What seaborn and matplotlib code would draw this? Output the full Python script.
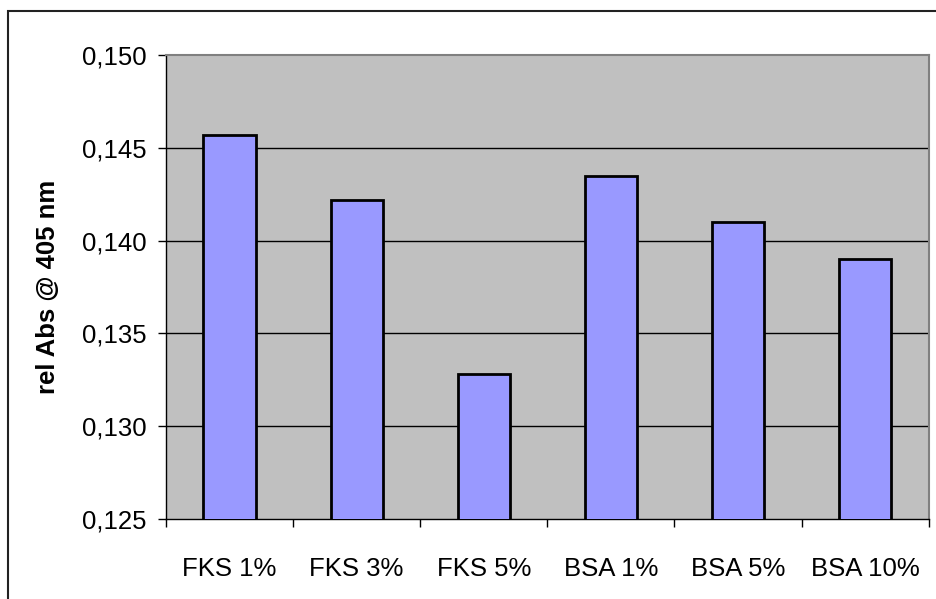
import matplotlib
matplotlib.use("Agg")
import matplotlib.pyplot as plt
import seaborn as sns
import pandas as pd
import numpy as np
from matplotlib.patches import Rectangle
from matplotlib.ticker import FuncFormatter, FixedLocator

categories = ["FKS 1%", "FKS 3%", "FKS 5%", "BSA 1%", "BSA 5%", "BSA 10%"]
values = [0.1457, 0.1422, 0.1328, 0.1435, 0.1410, 0.1390]
y_ticks = [0.125, 0.130, 0.135, 0.140, 0.145, 0.150]
y_label = "rel Abs @ 405 nm"

sns.set_theme(style="white")
plt.rcParams['font.family'] = ['Liberation Sans', 'DejaVu Sans']

df = pd.DataFrame({"cat": categories, "val": values})

fig = plt.figure(figsize=(9.36, 5.99), dpi=100)
ax = fig.add_axes([166/936, 1-519/599, (928.7-166)/936, (519-55)/599])
ax.set_facecolor("#C0C0C0")

sns.barplot(data=df, x="cat", y="val", color="#9999FF", saturation=1,
            edgecolor="black", linewidth=2.0, width=0.41, ax=ax, zorder=3)

ax.set_ylim(0.125, 0.150)
ax.set_xlim(-0.5, len(categories) - 0.5)
ax.set_yticks(y_ticks)
ax.yaxis.set_major_formatter(FuncFormatter(lambda v, p: f"{v:.3f}".replace(".", ",")))
for t in y_ticks[1:-1]:
    ax.axhline(t, color="black", linewidth=1.0, zorder=1)

ax.set_xlabel("")
ax.set_ylabel(y_label, fontsize=18.5, fontweight="bold", color="black", labelpad=16)

ax.tick_params(axis="y", which="major", direction="out", length=6, width=1,
               color="black", labelsize=18.5, labelcolor="black", pad=8, left=True)
ax.tick_params(axis="x", which="major", length=0, labelsize=18.5, labelcolor="black", pad=27)
ax.xaxis.set_minor_locator(FixedLocator(np.arange(-0.5, len(categories), 1.0)))
ax.tick_params(axis="x", which="minor", direction="out", length=6, width=1,
               color="black", bottom=True)

for side in ["left", "bottom"]:
    ax.spines[side].set_color("black")
    ax.spines[side].set_linewidth(1.0)
for side in ["top", "right"]:
    ax.spines[side].set_color("#808080")
    ax.spines[side].set_linewidth(1.5)
    ax.spines[side].set_visible(True)

# outer chart border (left and top visible)
fig.add_artist(Rectangle((8/936, -0.02), 1.1, 1 - 11/599 + 0.02,
                         transform=fig.transFigure, fill=False,
                         edgecolor="#222222", linewidth=1.5))

fig.savefig("out.png", dpi=100, facecolor="white")
